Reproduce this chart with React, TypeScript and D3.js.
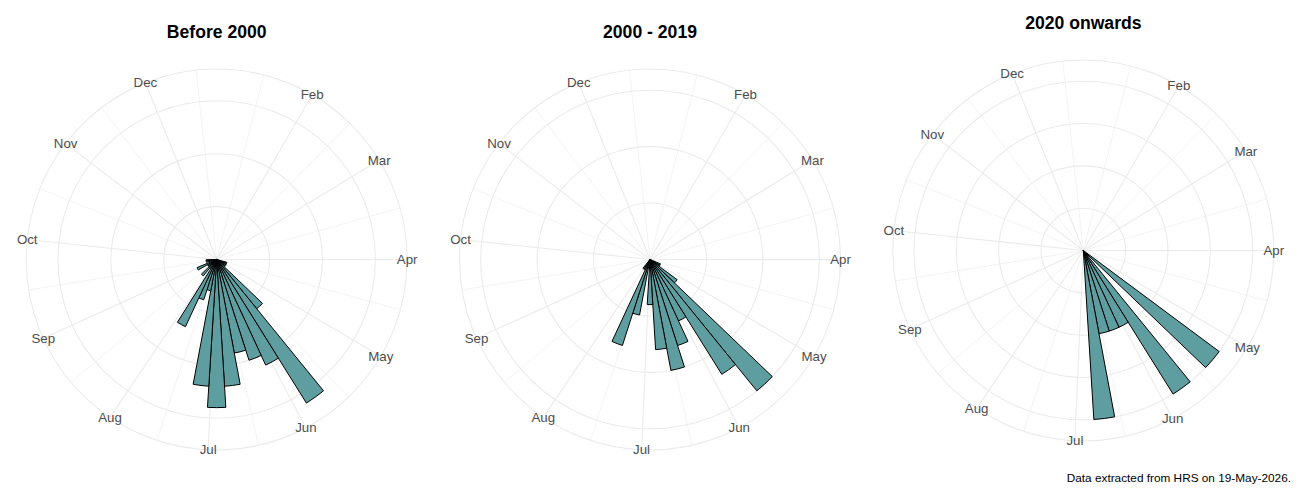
import React from "react";
import * as d3 from "d3";

// ---- data -------------------------------------------------------------
// week of year (bin = 7 days starting on day-of-year 7*(week-1)+1)
const WEEKS = [15, 16, 17, 18, 19, 20, 21, 22, 23, 24, 25, 26, 27, 28, 29, 30, 31, 32, 33, 34, 35, 36, 37, 38];
const BEFORE_2000 = [0, 1, 1, 1, 1, 6, 16, 11, 10, 9, 12, 14, 12, 3, 4, 7, 1, 2, 1, 1, 2, 0, 1, 1];
const Y2000_2019 = [0, 0, 1, 1, 3, 15, 12, 6, 8, 10, 8, 4, 0, 5, 8, 1, 1, 0, 0, 0, 0, 0, 0, 0];
const SINCE_2020 = [0, 0, 0, 0, 4, 0, 4, 2, 2, 2, 4, 0, 0, 0, 0, 0, 0, 0, 0, 0, 0, 0, 0, 0];

const PANEL_TITLES = ["Before 2000", "2000 - 2019", "2020 onwards"];
const MONTH_LABELS = ["Jan", "Feb", "Mar", "Apr", "May", "Jun", "Jul", "Aug", "Sep", "Oct", "Nov", "Dec"];
const MONTH_START_DAY = [1, 32, 60, 91, 121, 152, 182, 213, 244, 274, 305, 335];
const YEAR_END_DAY = 366;
const THETA_DOMAIN: [number, number] = [2.4, 356.6];
const BIN_DAYS = 7;
const CAPTION = "Data extracted from HRS on 19-May-2026.";

// ---- layout -----------------------------------------------------------
const W = 1300;
const H = 500;
const R40 = 169.3;
const R45 = 190.5;
const CENTER_Y = [259.5, 259.5, 250.5];
const TITLE_Y = [38, 38, 29];
const FONT = "'Liberation Sans', Arial, Helvetica, sans-serif";
const GRID = "#EBEBEB";

function Panel({ index, values }: { index: number; values: number[] }) {
  const cx = ((index + 0.5) * W) / 3;
  const cy = CENTER_Y[index];
  const theta = d3.scaleLinear().domain(THETA_DOMAIN).range([0, 2 * Math.PI]);
  const maxV = d3.max(values) as number;
  const r = d3.scaleLinear().domain([0, maxV]).range([0, R40]);
  const rTicks = r.ticks(4).filter((t) => t > 0);

  const majors = MONTH_START_DAY.map((d, i) => ({ d, label: MONTH_LABELS[i] })).filter(
    (m) => m.d >= THETA_DOMAIN[0] && m.d <= THETA_DOMAIN[1]
  );
  const minors = MONTH_START_DAY.map((d, i) => (d + (MONTH_START_DAY[i + 1] ?? YEAR_END_DAY)) / 2).filter(
    (d) => d >= THETA_DOMAIN[0] && d <= THETA_DOMAIN[1]
  );

  const px = (a: number, rad: number) => cx + rad * Math.sin(a);
  const py = (a: number, rad: number) => cy - rad * Math.cos(a);

  const arc = d3.arc<any>();
  const bars = WEEKS.map((w, i) => ({ w, v: values[i] })).filter((b) => b.v > 0);

  return (
    <g>
      <text
        x={cx}
        y={TITLE_Y[index]}
        textAnchor="middle"
        fontFamily={FONT}
        fontWeight="bold"
        fontSize={17.6}
        fill="#000"
      >
        {PANEL_TITLES[index]}
      </text>
      {/* minor theta grid */}
      {minors.map((d, i) => {
        const a = theta(d);
        return (
          <line key={"mn" + i} x1={cx} y1={cy} x2={px(a, R45)} y2={py(a, R45)} stroke={GRID} strokeWidth={0.6} />
        );
      })}
      {/* major theta grid */}
      {majors.map((m, i) => {
        const a = theta(m.d);
        return (
          <line key={"mj" + i} x1={cx} y1={cy} x2={px(a, R45)} y2={py(a, R45)} stroke={GRID} strokeWidth={1.1} />
        );
      })}
      {/* radial circles */}
      {[...rTicks.map((t) => r(t)), R45].map((rad, i) => (
        <circle key={"c" + i} cx={cx} cy={cy} r={rad} fill="none" stroke={GRID} strokeWidth={1.1} />
      ))}
      {/* bars */}
      <g transform={`translate(${cx},${cy})`}>
        {bars.map((b) => {
          const start = BIN_DAYS * (b.w - 1) + 1;
          return (
            <path
              key={"b" + b.w}
              d={
                arc({
                  innerRadius: 0,
                  outerRadius: r(b.v),
                  startAngle: theta(start),
                  endAngle: theta(start + BIN_DAYS),
                }) as string
              }
              fill="#5F9EA0"
              stroke="#000"
              strokeWidth={1}
              strokeLinejoin="miter"
            />
          );
        })}
      </g>
      {/* month labels */}
      {majors.map((m, i) => {
        const a = theta(m.d);
        return (
          <text
            key={"l" + i}
            x={px(a, R45)}
            y={py(a, R45)}
            textAnchor="middle"
            dominantBaseline="central"
            fontFamily={FONT}
            fontSize={13.3}
            fill="#4D4D4D"
          >
            {m.label}
          </text>
        );
      })}
    </g>
  );
}

export default function App() {
  const series = [BEFORE_2000, Y2000_2019, SINCE_2020];
  return (
    <svg
      width={W}
      height={H}
      viewBox={`0 0 ${W} ${H}`}
      style={{ position: "absolute", left: 0, top: 0, background: "#fff" }}
    >
      <rect x={0} y={0} width={W} height={H} fill="#fff" />
      {series.map((s, i) => (
        <Panel key={i} index={i} values={s} />
      ))}
      <text x={1291} y={482} textAnchor="end" fontFamily={FONT} fontSize={11.8} fill="#000">
        {CAPTION}
      </text>
    </svg>
  );
}
